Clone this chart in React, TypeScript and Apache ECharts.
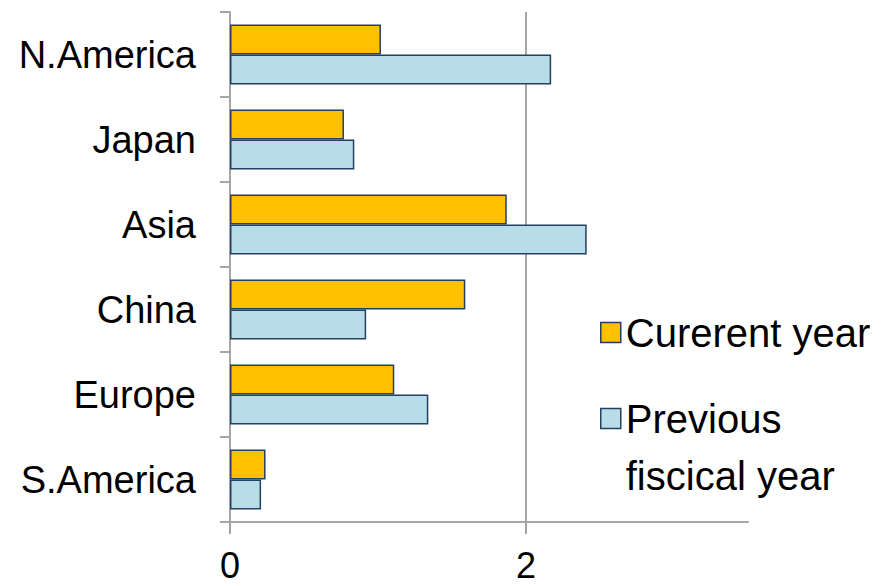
import React, { useEffect, useRef } from "react";
import * as echarts from "echarts";

const categories = ["N.America", "Japan", "Asia", "China", "Europe", "S.America"];
const currentYear = [1.02, 0.77, 1.87, 1.59, 1.11, 0.24];
const previousYear = [2.17, 0.84, 2.41, 0.92, 1.34, 0.21];
const seriesNames = ["Curerent year", "Previous fiscical year"];
const xTicks = [0, 2];

const FONT = "'Liberation Sans', Arial, sans-serif";
const AXIS_COLOR = "#A6A6A6";
const BORDER = "#243F60";

export default function App() {
  const ref = useRef<HTMLDivElement>(null);
  useEffect(() => {
    document.body.style.margin = "0";
    const chart = echarts.init(ref.current!, null, { renderer: "svg" });
    chart.setOption({
      animation: false,
      backgroundColor: "#ffffff",
      textStyle: { fontFamily: FONT },
      grid: { left: 230, right: 146, top: 12, bottom: 64, containLabel: false },
      legend: [
        {
          data: [seriesNames[0]],
          orient: "vertical",
          left: 600,
          top: 304,
          padding: 0,
          itemWidth: 20,
          itemHeight: 20,
          icon: "rect",
          selectedMode: false,
          itemStyle: { borderColor: BORDER, borderWidth: 1.5 },
          textStyle: { fontSize: 40, color: "#000", fontFamily: FONT, lineHeight: 57 },
        },
        {
          data: [seriesNames[1]],
          orient: "vertical",
          left: 600,
          top: 333,
          padding: 0,
          itemWidth: 20,
          itemHeight: 20,
          icon: "rect",
          selectedMode: false,
          formatter: () => " \nPrevious\nfiscical year",
          itemStyle: { borderColor: BORDER, borderWidth: 1.5 },
          textStyle: { fontSize: 40, color: "#000", fontFamily: FONT, lineHeight: 57 },
        },
      ],
      xAxis: {
        type: "value",
        min: 0,
        max: 3.5,
        interval: 2,
        axisLine: { show: true, lineStyle: { color: AXIS_COLOR, width: 2 } },
        axisTick: { show: true, length: 12, customValues: xTicks, lineStyle: { color: AXIS_COLOR, width: 2 } },
        axisLabel: {
          customValues: xTicks,
          fontSize: 36,
          lineHeight: 34,
          verticalAlign: "bottom",
          color: "#000",
          margin: 60,
          fontFamily: FONT,
        },
        splitLine: { show: true, lineStyle: { color: AXIS_COLOR, width: 2 } },
      },
      yAxis: {
        type: "category",
        data: categories,
        inverse: true,
        axisLine: { show: true, lineStyle: { color: AXIS_COLOR, width: 2 } },
        axisTick: { show: true, length: 10, lineStyle: { color: AXIS_COLOR, width: 2 } },
        axisLabel: { fontSize: 38, color: "#000", margin: 34, fontFamily: FONT },
      },
      series: [
        {
          name: seriesNames[0],
          type: "bar",
          data: currentYear,
          barWidth: 30,
          barGap: "0%",
          itemStyle: { color: "#FFC000", borderColor: BORDER, borderWidth: 1.5 },
        },
        {
          name: seriesNames[1],
          type: "bar",
          data: previousYear,
          barWidth: 30,
          barGap: "0%",
          itemStyle: { color: "#B7DEE8", borderColor: BORDER, borderWidth: 1.5 },
        },
      ],
    });
    return () => chart.dispose();
  }, []);
  return <div ref={ref} style={{ width: 894, height: 586 }} />;
}
